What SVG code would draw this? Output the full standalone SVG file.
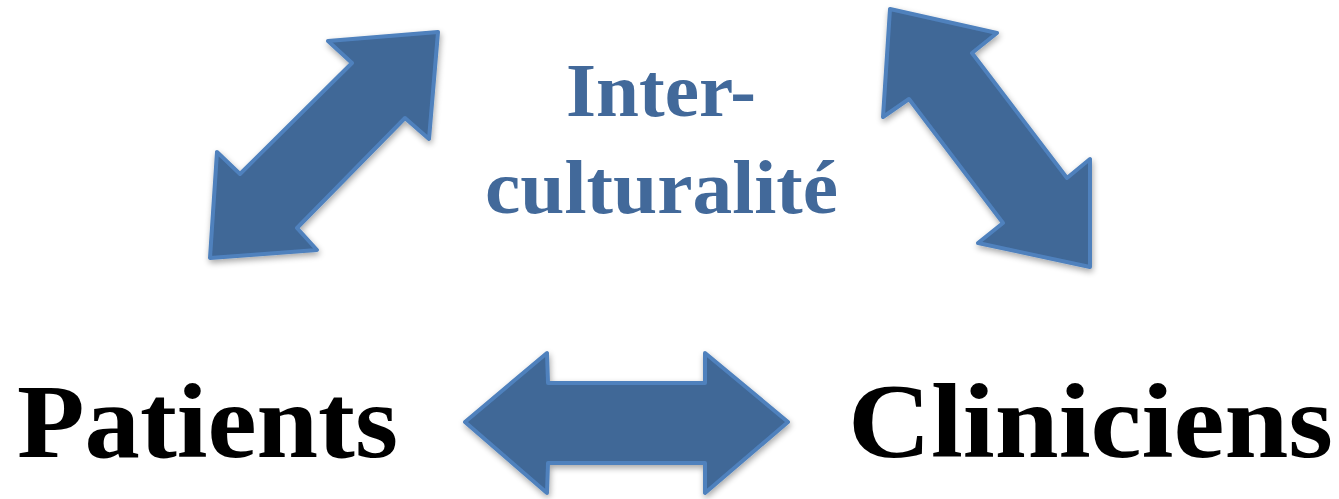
<svg xmlns="http://www.w3.org/2000/svg" width="1339" height="499" viewBox="0 0 1339 499">
<style>
.arrow{fill:#3f6797;stroke:#4f81bd;stroke-width:4;stroke-linejoin:round;filter:url(#sh)}
.blue{font-family:"Liberation Serif","DejaVu Serif",serif;font-weight:bold;fill:#42699a;font-size:77px}
.black{font-family:"Liberation Serif","DejaVu Serif",serif;font-weight:bold;fill:#000;font-size:106px}
</style>
<defs>
<filter id="sh" x="-10%" y="-10%" width="130%" height="130%">
<feGaussianBlur in="SourceAlpha" stdDeviation="3"/>
<feOffset dx="1" dy="3" result="b"/>
<feComponentTransfer><feFuncA type="linear" slope="0.35"/></feComponentTransfer>
<feMerge><feMergeNode/><feMergeNode in="SourceGraphic"/></feMerge>
</filter>
</defs>
<g id="connectors">
<polygon class="arrow" points="438,32 328,41 352,63 240,174 217,152 210,258 317,250 297,228 405,118 429,139"/>
<polygon class="arrow" points="890,9 997,33 972,53 1067,178 1090,159 1090,267 978,243 1003,223 909,99 883,117"/>
<polygon class="arrow" points="465,422 547,353 548,383 705,383 705,353 788,422 705,493 705,463 548,463 547,493"/>
</g>
<g id="interculturalite">
<text class="blue" x="566" y="116" textLength="190" lengthAdjust="spacingAndGlyphs">Inter-</text>
<text class="blue" x="485" y="213" textLength="353" lengthAdjust="spacingAndGlyphs">culturalité</text>
</g>
<g id="patients">
<text class="black" x="17" y="457" textLength="381" lengthAdjust="spacingAndGlyphs">Patients</text>
</g>
<g id="cliniciens">
<text class="black" x="848" y="457" textLength="485" lengthAdjust="spacingAndGlyphs">Cliniciens</text>
</g>
</svg>
